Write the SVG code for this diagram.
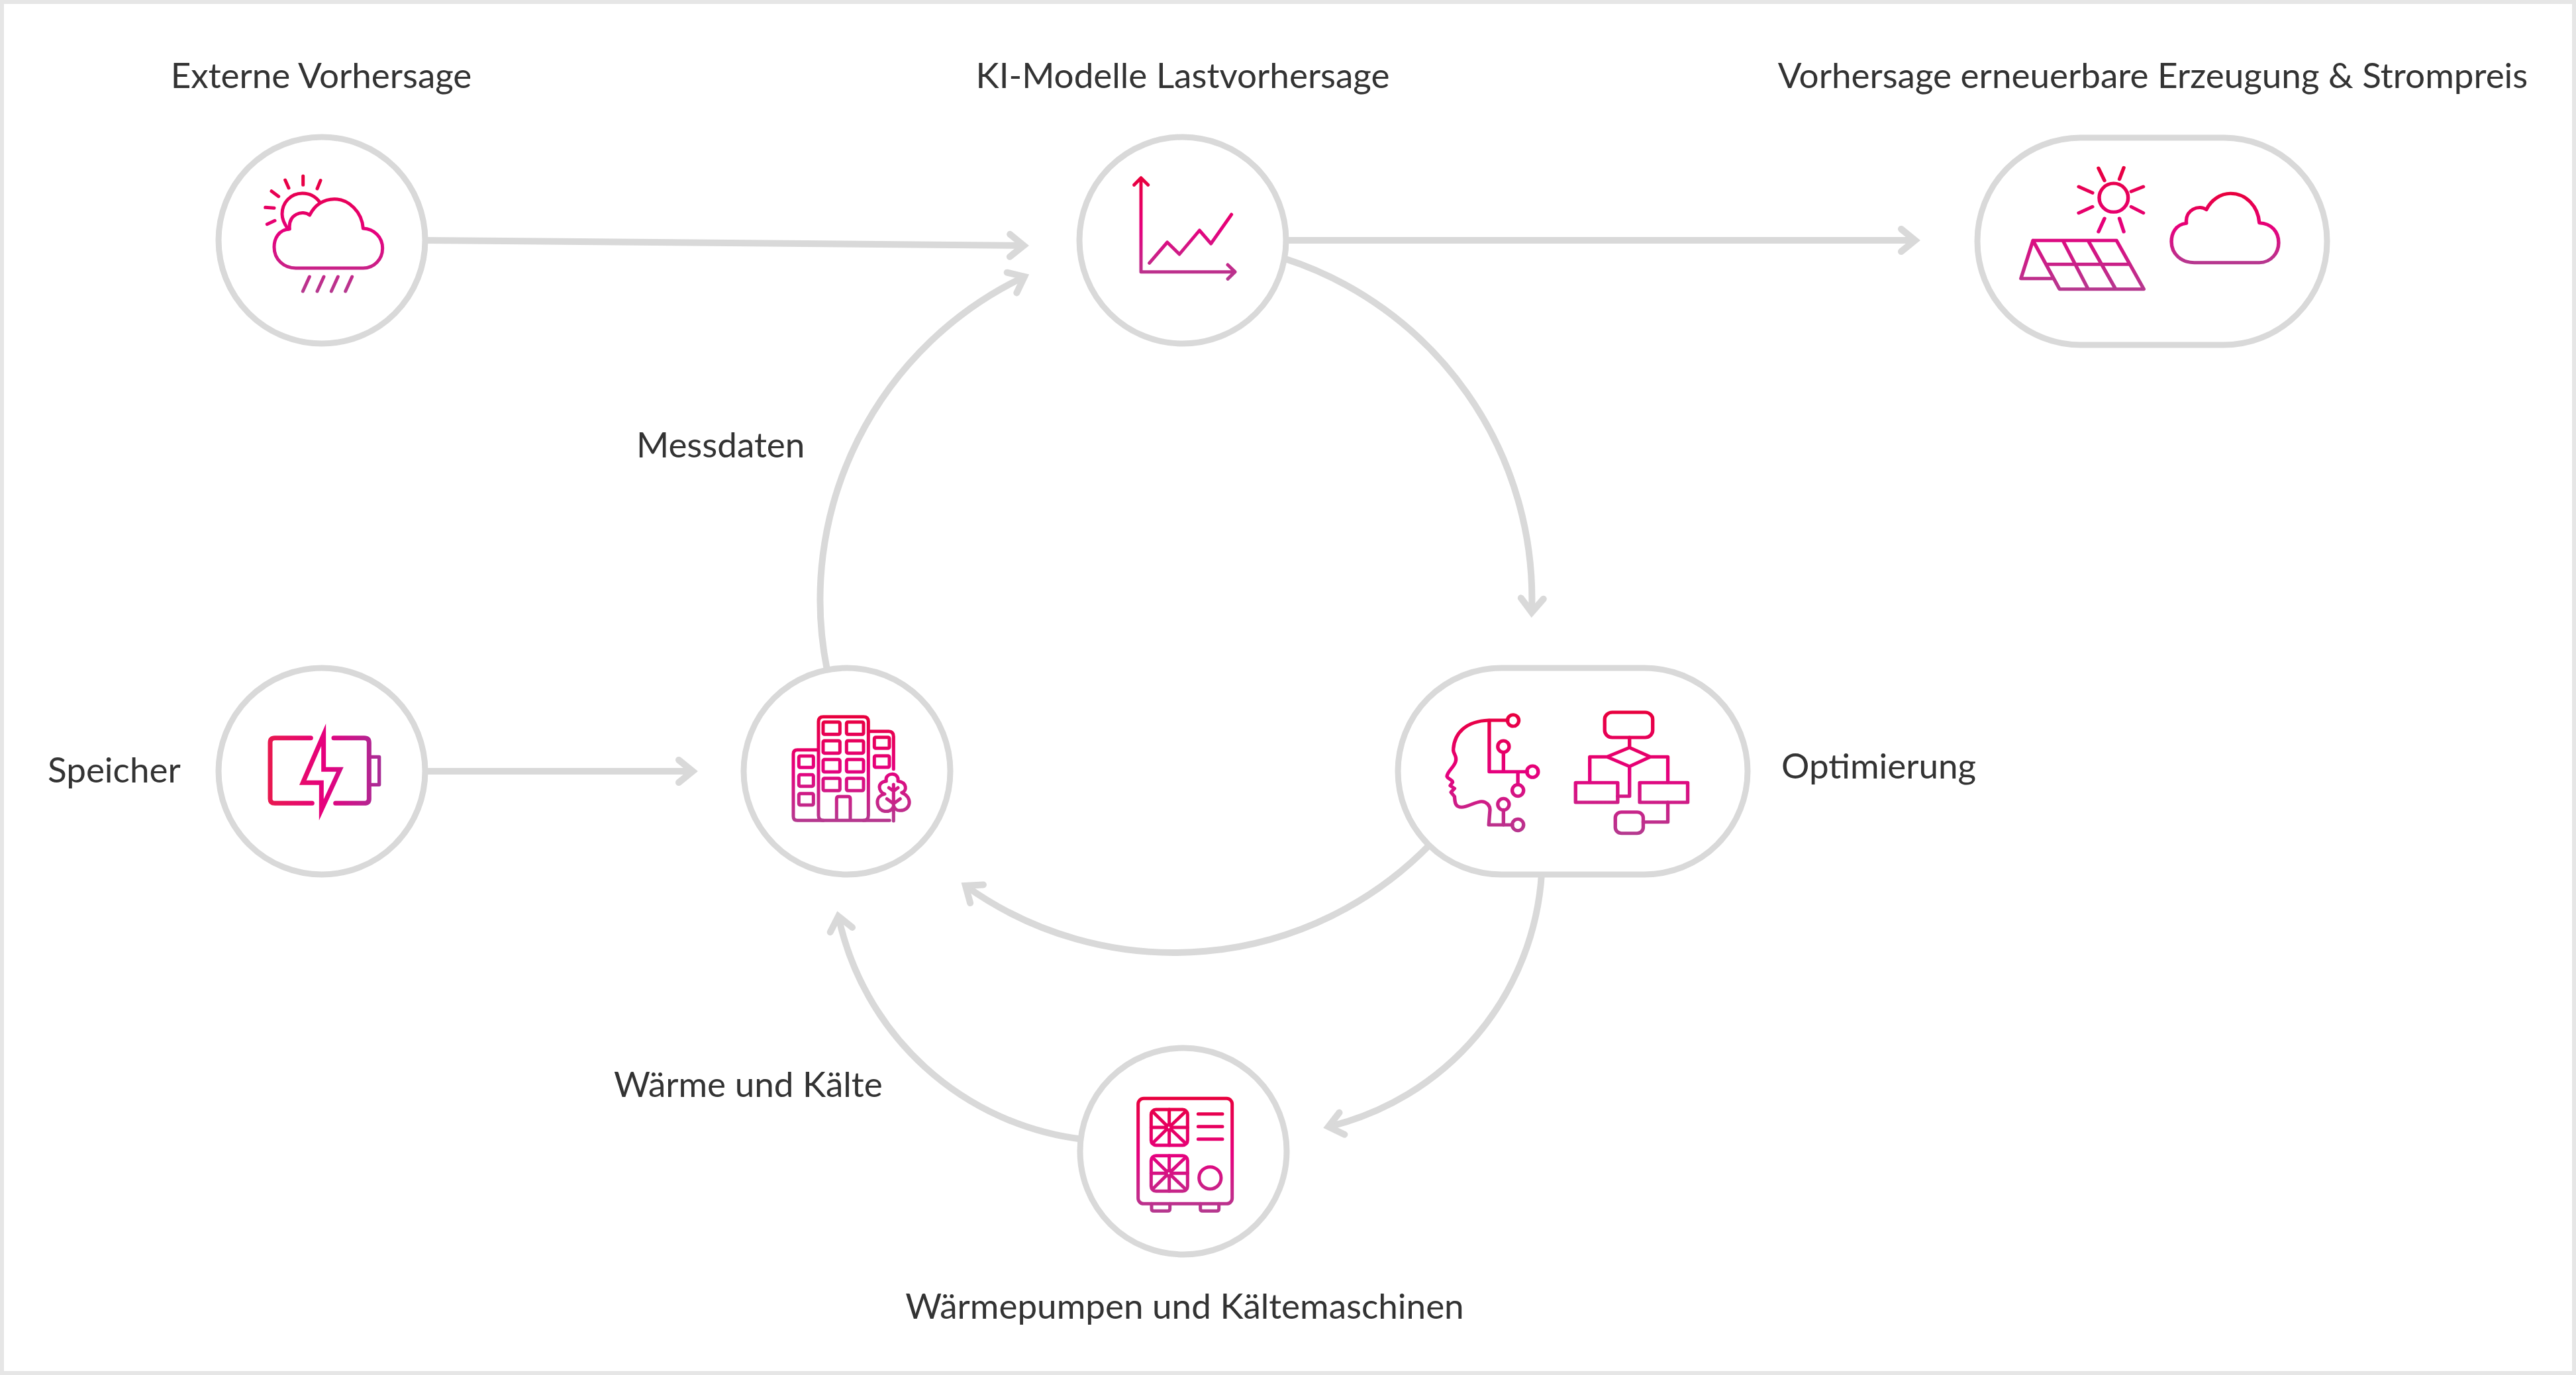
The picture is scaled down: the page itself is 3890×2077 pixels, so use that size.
<svg xmlns="http://www.w3.org/2000/svg" xmlns:xlink="http://www.w3.org/1999/xlink" width="3890" height="2077" viewBox="0 0 3890 2077">
<style>
.frame{fill:#fff;stroke:#e6e6e6;stroke-width:6}
.shell{fill:#fff;stroke:#d9d9d9;stroke-width:9}
.conn{fill:none;stroke:#d9d9d9;stroke-width:10}
.head{fill:none;stroke:#d9d9d9;stroke-width:10;stroke-linecap:round;stroke-linejoin:miter;stroke-miterlimit:10}
.label{font-family:Lato,"Open Sans","Liberation Sans",sans-serif;font-size:53px;fill:#333}
.mid{text-anchor:middle}
.icon{fill:none;stroke-linecap:round;stroke-linejoin:round;stroke-width:15}
</style>
<defs>
<linearGradient id="base"><stop offset="0" stop-color="#e8003d"/><stop offset="0.5" stop-color="#e6007e"/><stop offset="1" stop-color="#b5398f"/></linearGradient>
<linearGradient id="gw" xlink:href="#base" gradientUnits="userSpaceOnUse" x1="0" y1="250" x2="0" y2="785"/>
<linearGradient id="gc" xlink:href="#base" gradientUnits="userSpaceOnUse" x1="0" y1="262" x2="0" y2="728"/>
<linearGradient id="gs" xlink:href="#base" gradientUnits="userSpaceOnUse" x1="0" y1="215" x2="0" y2="775"/>
<linearGradient id="gk" xlink:href="#base" gradientUnits="userSpaceOnUse" x1="0" y1="337" x2="0" y2="655"/>
<linearGradient id="gb" gradientUnits="userSpaceOnUse" x1="315" y1="0" x2="825" y2="0"><stop offset="0" stop-color="#e8194f"/><stop offset="0.5" stop-color="#e6007e"/><stop offset="1" stop-color="#a92d96"/></linearGradient>
<linearGradient id="gh" xlink:href="#base" gradientUnits="userSpaceOnUse" x1="0" y1="272" x2="0" y2="752"/>
<linearGradient id="ga" xlink:href="#base" gradientUnits="userSpaceOnUse" x1="0" y1="255" x2="0" y2="810"/>
<linearGradient id="gp" xlink:href="#base" gradientUnits="userSpaceOnUse" x1="0" y1="262" x2="0" y2="782"/>
<marker id="arrow" markerUnits="userSpaceOnUse" markerWidth="60" markerHeight="60" refX="0" refY="0" viewBox="-40 -30 60 60" orient="auto" overflow="visible">
<path class="head" d="M-21 -17L0 0L-21 17"/>
</marker>
</defs>
<rect class="frame" x="3" y="3" width="3884" height="2071"/>
<g id="connectors">
<path class="conn" marker-end="url(#arrow)" d="M640 363L1546 371"/>
<path class="conn" marker-end="url(#arrow)" d="M1940 363H2892"/>
<path class="conn" marker-end="url(#arrow)" d="M640 1165H1046"/>
<path class="conn" marker-end="url(#arrow)" d="M1249 1012A540 540 0 0 1 1547 418"/>
<path class="conn" marker-end="url(#arrow)" d="M1938 390A540 540 0 0 1 2313 925"/>
<path class="conn" marker-end="url(#arrow)" d="M2160 1275A540 540 0 0 1 1458 1338"/>
<path class="conn" marker-end="url(#arrow)" d="M2328 1320A420 420 0 0 1 2006 1702"/>
<path class="conn" marker-end="url(#arrow)" d="M1635 1721A430 430 0 0 1 1266 1384"/>
</g>
<g id="node-extern">
<circle class="shell" cx="486" cy="363" r="156"/>
<g class="icon" stroke="url(#gw)" transform="translate(300 180) scale(.33333)">
<path d="M412 498C360 500 342 545 342 580C342 635 385 675 440 675L745 675C795 675 833 635 833 585C833 535 795 497 745 495C740 420 680 362 615 362C565 362 525 390 503 435C470 410 405 430 412 498Z"/>
<path d="M550 378C530 350 500 336 470 336C415 336 378 380 378 430C378 455 390 478 405 498"/>
<path d="M473 258V298M392 276L408 312M552 278L537 315M330 326L362 350M302 400L342 403M310 476L345 460"/>
<path d="M502 714L472 780M567 714L537 780M631 714L601 780M695 714L665 780"/>
</g>
<text class="label mid" x="485" y="133">Externe Vorhersage</text>
</g>
<g id="node-ki">
<circle class="shell" cx="1786" cy="363" r="156"/>
<g class="icon" stroke="url(#gc)" transform="translate(1600 180) scale(.33333)">
<path d="M369 268V692H795M338 298L369 266L401 298M762 660L795 692L762 724"/>
<path d="M407 652L488 558L543 612L634 504L686 564L779 432"/>
</g>
<text class="label mid" x="1786" y="133">KI-Modelle Lastvorhersage</text>
</g>
<g id="node-erzeugung">
<rect class="shell" x="2986" y="208" width="528" height="313" rx="156"/>
<g class="icon" stroke="url(#gs)" transform="translate(2970 180) scale(.36364 .33333)">
<ellipse cx="610" cy="356" rx="60" ry="65"/>
<path d="M547 222L572 278M652 220L634 272M465 306L522 334M733 306L683 328M465 425L522 397M733 425L683 397M572 450L547 510M634 450L652 510"/>
<path d="M275 550H622L735 770H385ZM400 552L503 768M505 552L617 768M335 658H675M275 550L225 722H360"/>
</g>
<g class="icon" stroke="url(#gk)" transform="translate(2970 180) scale(.36364 .33333)">
<path d="M912 472C865 478 850 520 850 555C850 610 890 650 945 650L1215 650C1265 650 1295 605 1295 560C1295 510 1265 472 1215 470C1210 395 1160 337 1095 337C1055 337 1015 365 995 410C965 385 905 410 912 472Z"/>
</g>
<text class="label mid" x="3251" y="133">Vorhersage erneuerbare Erzeugung &amp; Strompreis</text>
</g>
<g id="node-speicher">
<circle class="shell" cx="486" cy="1165" r="156"/>
<g class="icon" stroke="url(#gb)" transform="translate(300 990) scale(.33333)" style="stroke-width:21">
<path d="M508 374H345Q324 374 324 395V650Q324 670 345 670H514M612 374H750Q772 374 772 395V650Q772 670 750 670H620"/>
<path d="M782 460H818V586H782" style="stroke-width:16"/>
<path d="M566 360V517H640L556 700V577H472Z" style="stroke-linejoin:miter;stroke-miterlimit:12"/>
</g>
<text class="label" x="72" y="1182">Speicher</text>
</g>
<g id="node-gebaeude">
<circle class="shell" cx="1279" cy="1165" r="156"/>
<g class="icon" stroke="url(#gh)" transform="translate(1100 990) scale(.33333)">
<path d="M408 725V300Q408 278 430 278H612Q634 278 634 300V725Q634 748 612 748M408 725Q408 748 430 748"/>
<path d="M730 748H312Q294 748 294 730V446Q294 428 312 428H405M638 344H726Q748 344 748 368V515"/>
<path d="M490 745V650Q490 640 500 640H542Q552 640 552 650V745"/>
<rect x="429" y="302" width="76" height="56" rx="6"/><rect x="535" y="302" width="77" height="56" rx="6"/>
<rect x="429" y="387" width="76" height="56" rx="6"/><rect x="535" y="387" width="77" height="56" rx="6"/>
<rect x="429" y="472" width="76" height="56" rx="6"/><rect x="535" y="472" width="77" height="56" rx="6"/>
<rect x="429" y="557" width="76" height="56" rx="6"/><rect x="535" y="557" width="77" height="56" rx="6"/>
<rect x="319" y="456" width="66" height="52" rx="6"/><rect x="319" y="541" width="66" height="52" rx="6"/><rect x="319" y="626" width="66" height="52" rx="6"/>
<rect x="661" y="371" width="68" height="50" rx="6"/><rect x="661" y="455" width="68" height="52" rx="6"/>
<path d="M745 690C735 715 680 715 675 670C672 645 690 632 708 628C680 620 670 575 715 570C705 530 775 525 768 570C810 575 810 615 785 622C835 640 830 705 775 703C760 703 752 690 750 685"/>
<path d="M748 585V750M727 600L748 615L768 600M718 650L748 672L778 650"/>
</g>
</g>
<g id="node-optimierung">
<rect class="shell" x="2111" y="1009" width="528" height="312" rx="156"/>
<g class="icon" stroke="url(#ga)" transform="translate(2100 990) scale(.35714 .33333)">
<path d="M495 294H415C320 298 270 350 265 425C263 445 282 455 275 480C270 505 240 525 238 548C240 560 262 562 262 575L252 590L270 603L255 620L270 640C272 660 270 688 300 688C325 688 360 662 385 662C405 662 420 680 420 700L415 768H515"/>
<path d="M417 295V527H578M477 440V527M538 527V585M477 700V768"/>
<ellipse cx="518" cy="295" rx="24" ry="26"/><ellipse cx="477" cy="413" rx="24" ry="26"/><ellipse cx="600" cy="527" rx="24" ry="26"/><ellipse cx="538" cy="612" rx="24" ry="26"/><ellipse cx="477" cy="675" rx="24" ry="26"/><ellipse cx="538" cy="768" rx="24" ry="26"/>
<rect x="905" y="258" width="203" height="114" rx="32"/>
<path d="M1010 372V418M1010 418L1098 460L1010 503L915 460ZM915 460H842V575M1098 460H1172V575M1010 503V638H960M1172 666V755H1068"/>
<rect x="782" y="577" width="178" height="89"/><rect x="1053" y="577" width="203" height="89"/>
<rect x="950" y="710" width="118" height="96" rx="26"/>
</g>
<text class="label" x="2690" y="1176">Optimierung</text>
</g>
<g id="node-waermepumpe">
<circle class="shell" cx="1787" cy="1739" r="156"/>
<g class="icon" stroke="url(#gp)" transform="translate(1610 1570) scale(.33333)">
<rect x="326" y="268" width="426" height="477" rx="25"/>
<rect x="385" y="318" width="165" height="162" rx="22"/>
<rect x="385" y="527" width="165" height="161" rx="22"/>
<circle cx="465" cy="399" r="12"/><circle cx="465" cy="607" r="12"/>
<path d="M467 318V387M467 411V480M385 399H453M477 399H550M392 328L455 390M540 328L475 390M392 470L455 408M540 470L475 408"/>
<path d="M467 527V595M467 619V688M385 607H453M477 607H550M392 536L455 598M540 536L475 598M392 678L455 616M540 678L475 616"/>
<path d="M598 338H708M598 395H708M598 452H708"/>
<circle cx="652" cy="628" r="50"/>
<path d="M387 745V768Q387 778 397 778H460Q470 778 470 768V745M608 745V768Q608 778 618 778H682Q692 778 692 768V745"/>
</g>
<text class="label mid" x="1789" y="1992">Wärmepumpen und Kältemaschinen</text>
</g>
<text id="label-messdaten" class="label" x="961" y="691">Messdaten</text>
<text id="label-waerme" class="label" x="927" y="1657">Wärme und Kälte</text>
</svg>
